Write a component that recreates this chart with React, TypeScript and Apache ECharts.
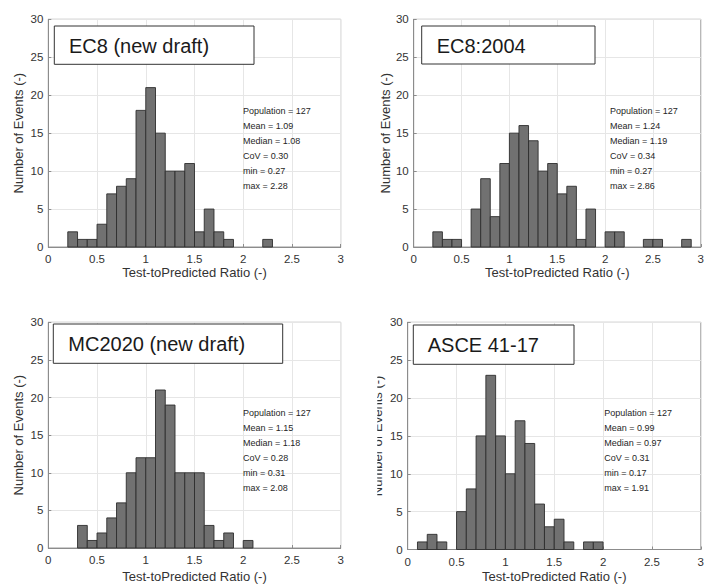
import React, { useEffect, useRef } from 'react';
import * as echarts from 'echarts';

const BIN_WIDTH = 0.1;

const ec8NewStart = 0.2;
const ec8NewCounts = [2, 1, 1, 3, 7, 8, 9, 18, 21, 15, 10, 10, 11, 2, 5, 2, 1, 0, 0, 0, 1];

const ec8OldStart = 0.2;
const ec8OldCounts = [2, 1, 1, 0, 5, 9, 4, 11, 15, 16, 14, 10, 11, 7, 8, 1, 5, 0, 2, 2, 0, 0, 1, 1, 0, 0, 1];

const mc2020Start = 0.3;
const mc2020Counts = [3, 1, 2, 4, 6, 10, 12, 12, 21, 19, 10, 10, 10, 3, 1, 2, 0, 1];

const asceStart = 0.1;
const asceCounts = [1, 2, 1, 0, 5, 8, 15, 23, 15, 10, 17, 14, 6, 3, 4, 1, 0, 1, 1];

const panelTitles = ['EC8 (new draft)', 'EC8:2004', 'MC2020 (new draft)', 'ASCE 41-17'];

const statNames = ['Population', 'Mean', 'Median', 'CoV', 'min', 'max'];
const ec8NewStats = ['127', '1.09', '1.08', '0.30', '0.27', '2.28'];
const ec8OldStats = ['127', '1.24', '1.19', '0.34', '0.27', '2.86'];
const mc2020Stats = ['127', '1.15', '1.18', '0.28', '0.31', '2.08'];
const asceStats = ['127', '0.99', '0.97', '0.31', '0.17', '1.91'];

const xTickInterval = 0.5;
const yTickInterval = 5;
const xName = 'Test-toPredicted Ratio (-)';
const yName = 'Number of Events (-)';

const FONT = "'Liberation Sans', Arial, sans-serif";

const panels = [
  { start: ec8NewStart, counts: ec8NewCounts, stats: ec8NewStats,
    grid: { left: 48.3, top: 19.3, width: 292.4, height: 227.7 }, xGap: 19, yGap: 23,
    box: { x: 54.3, y: 26, w: 199.7, h: 38.3, tx: 69, ty: 45.5 }, st: { x: 243, y: 111 } },
  { start: ec8OldStart, counts: ec8OldCounts, stats: ec8OldStats,
    grid: { left: 413.7, top: 19.3, width: 294, height: 227.7 }, xGap: 19, yGap: 22,
    box: { x: 421.7, y: 26, w: 173.3, h: 38, tx: 436.7, ty: 45.5 }, st: { x: 610, y: 111 } },
  { start: mc2020Start, counts: mc2020Counts, stats: mc2020Stats,
    grid: { left: 48.3, top: 322.3, width: 292.4, height: 227 }, xGap: 22, yGap: 23,
    box: { x: 53.3, y: 324, w: 229.4, h: 39.3, tx: 68.3, ty: 344 }, st: { x: 243, y: 412.7 } },
  { start: asceStart, counts: asceCounts, stats: asceStats,
    grid: { left: 407.7, top: 322.3, width: 294, height: 227.2 }, xGap: 20.5, yGap: 23.5,
    box: { x: 413.3, y: 325, w: 160.7, h: 39.3, tx: 427.7, ty: 345 }, st: { x: 604.3, y: 413.3 } },
];

function binData(start: number, counts: number[]) {
  const out: number[][] = [];
  counts.forEach((c, i) => {
    if (c > 0) {
      const x0 = +(start + i * BIN_WIDTH).toFixed(3);
      const x1 = +(start + (i + 1) * BIN_WIDTH).toFixed(3);
      out.push([x0, x1, c]);
    }
  });
  return out;
}

export default function App() {
  const ref = useRef<HTMLDivElement>(null);
  useEffect(() => {
    if (!ref.current) return;
    const chart = echarts.init(ref.current, null, { renderer: 'svg' });
    const grids: any[] = [];
    const xAxes: any[] = [];
    const yAxes: any[] = [];
    const series: any[] = [];
    const graphics: any[] = [];

    panels.forEach((p, i) => {
      grids.push({ ...p.grid, show: true, borderColor: '#9a9a9a', borderWidth: 1, backgroundColor: '#fff' });
      xAxes.push({
        type: 'value', gridIndex: i, min: 0, max: 3, interval: xTickInterval,
        name: xName, nameLocation: 'middle', nameGap: p.xGap,
        nameTextStyle: { fontFamily: FONT, fontSize: 13, color: '#333' },
        axisLine: { show: true, onZero: false, lineStyle: { color: '#8c8c8c', width: 1 } },
        axisTick: { show: true, inside: true, length: 3, lineStyle: { color: '#8c8c8c' } },
        axisLabel: { fontFamily: FONT, fontSize: 11.5, color: '#333', margin: 6 },
        splitLine: { show: true, lineStyle: { color: '#e6e6e6', width: 1 } },
      });
      yAxes.push({
        type: 'value', gridIndex: i, min: 0, max: 30, interval: yTickInterval,
        name: yName, nameLocation: 'middle', nameGap: p.yGap,
        nameTextStyle: { fontFamily: FONT, fontSize: 13, color: '#333' },
        axisLine: { show: true, lineStyle: { color: '#8c8c8c', width: 1 } },
        axisTick: { show: true, inside: true, length: 3, lineStyle: { color: '#8c8c8c' } },
        axisLabel: { fontFamily: FONT, fontSize: 11.5, color: '#333', margin: 5 },
        splitLine: { show: true, lineStyle: { color: '#e6e6e6', width: 1 } },
      });
      series.push({
        type: 'custom', xAxisIndex: i, yAxisIndex: i,
        data: binData(p.start, p.counts),
        encode: { x: [0, 1], y: 2 },
        renderItem: (params: any, api: any) => {
          const x0 = api.value(0);
          const x1 = api.value(1);
          const c = api.value(2);
          const pTop = api.coord([x0, c]);
          const pBot = api.coord([x1, 0]);
          return {
            type: 'rect',
            shape: { x: pTop[0], y: pTop[1], width: pBot[0] - pTop[0], height: pBot[1] - pTop[1] },
            style: { fill: '#717171', stroke: '#2e2e2e', lineWidth: 0.9 },
          };
        },
      });
      graphics.push({
        type: 'rect', z: 100,
        shape: { x: p.box.x, y: p.box.y, width: p.box.w, height: p.box.h },
        style: { fill: '#fff', stroke: '#333', lineWidth: 1 },
      });
      graphics.push({
        type: 'text', z: 101, x: p.box.tx, y: p.box.ty,
        style: { text: panelTitles[i], fontFamily: FONT, fontSize: 20, fill: '#1a1a1a', textVerticalAlign: 'middle', verticalAlign: 'middle' },
      });
      p.stats.forEach((v, k) => {
        graphics.push({
          type: 'text', z: 101, x: p.st.x, y: p.st.y + k * 15,
          style: { text: `${statNames[k]} = ${v}`, fontFamily: FONT, fontSize: 9, fill: '#262626', textVerticalAlign: 'middle', verticalAlign: 'middle' },
        });
      });
    });

    // crop edge between the left and right bottom images
    graphics.push({
      type: 'rect', z: 200,
      shape: { x: 346, y: 300, width: 31.3, height: 284 },
      style: { fill: '#fff' },
    });

    chart.setOption({
      animation: false,
      backgroundColor: '#fff',
      grid: grids,
      xAxis: xAxes,
      yAxis: yAxes,
      series,
      graphic: graphics,
    });
    return () => chart.dispose();
  }, []);
  return <div ref={ref} style={{ position: 'fixed', left: 0, top: 0, width: 707, height: 584 }} />;
}
